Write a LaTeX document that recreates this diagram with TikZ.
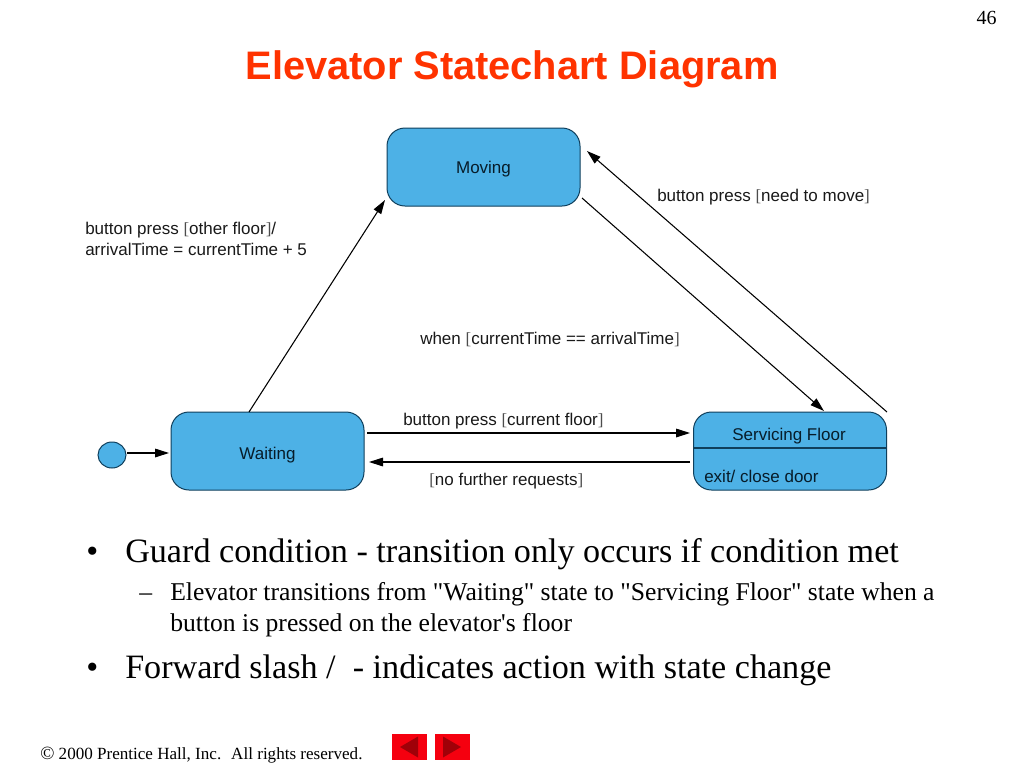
\documentclass[tikz,border=0pt]{standalone}
\usepackage{fontspec}
\setmainfont{Liberation Serif}
\newfontfamily\plainserif{Liberation Serif}
\newfontfamily\arialf{Liberation Sans}
\newcommand{\brk}[1]{{\plainserif\color{black!70}#1}}
\usetikzlibrary{arrows.meta,shapes.geometric}
\definecolor{fillblue}{HTML}{4DB1E6}
\definecolor{edgeblue}{HTML}{0F3F5C}
\definecolor{titlered}{HTML}{FF3300}
\definecolor{navred}{HTML}{F5000F}
\definecolor{navdark}{HTML}{A00008}
\tikzset{
  x=0.75pt,y=-0.75pt,
  statebox/.style={draw=edgeblue,fill=fillblue,line width=0.75pt,rounded corners=13.5pt,minimum width=144.75pt,minimum height=58.5pt,inner sep=0pt},
  statetext/.style={inner sep=0pt,font=\arialf\fontsize{12.75}{15}\selectfont,text=edgeblue!45!black},
  lbl/.style={inner sep=0pt,anchor=west,font=\arialf\fontsize{12.75}{15}\selectfont,text=black!90},
  conn/.style={draw=black,line width=0.8pt,-{Triangle[length=10.5pt,width=6.5pt]}},
  bigbul/.style={inner sep=0pt,anchor=base west,font=\plainserif\fontsize{25.6}{30}\selectfont},
  subbul/.style={inner sep=0pt,anchor=base west,font=\plainserif\fontsize{19.22}{23}\selectfont},
  navbtn/.style={fill=navred,draw=none,minimum width=26.25pt,minimum height=19.5pt,inner sep=0pt}
}
\begin{document}
\begin{tikzpicture}
\useasboundingbox (0,0) rectangle (1024,768);
\fill[white] (0,0) rectangle (1024,768);
\node[inner sep=0pt,anchor=base east,font=\fontsize{15}{18}\selectfont] (pagenum) at (997,24) {46};
\node[inner sep=0pt,anchor=base,font=\arialf\bfseries\fontsize{29.85}{34}\selectfont,text=titlered] (title) at (512,79) {Elevator Statechart Diagram};

\node[statebox] (moving) at (483.5,167) {};
\node[statetext] (movingt) at (483.5,169) {Moving};
\node[statebox] (waiting) at (267.5,451) {};
\node[statetext] (waitingt) at (267.5,455.5) {Waiting};
\node[statebox] (servicing) at (790,451) {};
\draw[edgeblue,line width=1pt] (servicing.west |- 0,448) -- (servicing.east |- 0,448);
\node[statetext] (servt) at (789,436.5) {Servicing Floor};
\node[statetext,anchor=west] (exitt) at (704,476.5) {exit/ close door};
\node[ellipse,draw=edgeblue,fill=fillblue,line width=0.75pt,minimum width=21pt,minimum height=19.5pt,inner sep=0pt] (init) at (112,455) {};

\coordinate (a1s) at (127,453); \coordinate (a1e) at (169,453);
\coordinate (a2s) at (249,412); \coordinate (a2e) at (385,200);
\coordinate (a3s) at (582,198); \coordinate (a3e) at (824,411);
\coordinate (a4s) at (887,412); \coordinate (a4e) at (587,151);
\coordinate (a5s) at (367,433); \coordinate (a5e) at (690,433);
\coordinate (a6s) at (690,462); \coordinate (a6e) at (369,462);
\draw[conn] (a1s) -- (a1e);
\draw[conn] (a2s) -- (a2e);
\draw[conn] (a3s) -- (a3e);
\draw[conn] (a4s) -- (a4e);
\draw[conn] (a5s) -- (a5e);
\draw[conn] (a6s) -- (a6e);

\node[lbl] (l1) at (657,197) {button press \brk{[}need to move\brk{]}};
\node[lbl] (l2) at (85,230) {button press \brk{[}other floor\brk{]}/};
\node[lbl] (l3) at (85,249) {arrivalTime = currentTime + 5};
\node[lbl] (l4) at (420,339) {when \brk{[}currentTime == arrivalTime\brk{]}};
\node[lbl] (l5) at (403,421) {button press \brk{[}current floor\brk{]}};
\node[lbl] (l6) at (429,481) {\brk{[}no further requests\brk{]}};

\node[bigbul] (b1) at (86,562) {•};
\node[bigbul] (t1) at (125,562) {Guard condition - transition only occurs if condition met};
\node[subbul] (b2) at (139,600) {–};
\node[subbul] (t2) at (170,600) {Elevator transitions from "Waiting" state to "Servicing Floor" state when a};
\node[subbul] (t3) at (170,631) {button is pressed on the elevator's floor};
\node[bigbul] (b3) at (86,678) {•};
\node[bigbul] (t4) at (125,678) {Forward slash /\hspace{0.25em} - indicates action with state change};

\node[inner sep=0pt,anchor=base west,font=\plainserif\fontsize{12.8}{15}\selectfont] (copy) at (40,759) {{\fontsize{14}{15}\selectfont\textcopyright} 2000 Prentice Hall, Inc.\hspace{0.25em} All rights reserved.};
\node[navbtn] (prev) at (409.5,747) {};
\node[navbtn] (next) at (452.5,747) {};
\fill[navdark] (400,747) -- (418,736.5) -- (418,757.5) -- cycle;
\fill[navdark] (461,747) -- (443,736.5) -- (443,757.5) -- cycle;
\end{tikzpicture}
\end{document}
